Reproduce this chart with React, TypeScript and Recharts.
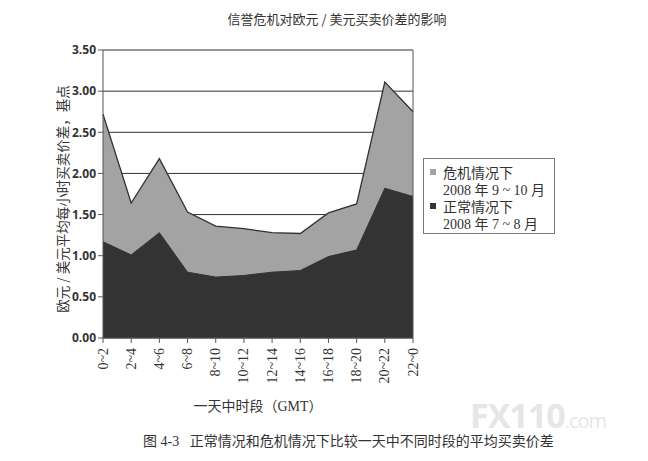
import React from "react";
import {
  Area,
  AreaChart,
  CartesianGrid,
  ReferenceLine,
  XAxis,
  YAxis,
} from "recharts";

const hours = ["0~2", "2~4", "4~6", "6~8", "8~10", "10~12", "12~14", "14~16", "16~18", "18~20", "20~22", "22~0"];
const crisis = [2.72, 1.64, 2.18, 1.53, 1.36, 1.33, 1.28, 1.27, 1.52, 1.63, 3.11, 2.75];
const normal = [1.17, 1.01, 1.28, 0.8, 0.74, 0.76, 0.8, 0.82, 0.99, 1.07, 1.82, 1.72];
const yTicks = [0, 0.5, 1, 1.5, 2, 2.5, 3, 3.5];

const data = hours.map((h, i) => ({ hour: h, crisis: crisis[i], normal: normal[i] }));

const serif = '"Liberation Serif", "DejaVu Serif", "Noto Sans CJK SC", serif';
const sans = '"Noto Sans CJK SC", "Open Sans", sans-serif';

function XTick({ x, y, payload }: any) {
  const ty = y + 3;
  return (
    <text
      x={x}
      y={ty}
      transform={`rotate(-90 ${x} ${ty})`}
      textAnchor="end"
      dominantBaseline="central"
      fontFamily={serif}
      fontSize={14}
      fill="#333"
    >
      {payload.value}
    </text>
  );
}

function LegendBox() {
  const row = { display: "flex", alignItems: "center", height: 17 } as const;
  const sq = (c: string) => (
    <span style={{ width: 6, height: 6, background: c, display: "inline-block", marginRight: 7 }} />
  );
  return (
    <div
      style={{
        position: "absolute",
        left: 423,
        top: 158,
        border: "1px solid #777",
        padding: "4px 6px 2px 6px",
        fontFamily: serif,
        fontSize: 14,
        color: "#333",
        background: "#fff",
        width: 118,
      }}
    >
      <div style={row}>{sq("#a3a3a3")}危机情况下</div>
      <div style={{ ...row, paddingLeft: 13 }}>2008 年 9 ~ 10 月</div>
      <div style={row}>{sq("#333")}正常情况下</div>
      <div style={{ ...row, paddingLeft: 13 }}>2008 年 7 ~ 8 月</div>
    </div>
  );
}

export default function App() {
  return (
    <div style={{ position: "absolute", left: 0, top: 0, width: 648, height: 461, background: "#fff" }}>
      <div
        style={{
          position: "absolute",
          left: 0,
          width: 674,
          top: 9,
          textAlign: "center",
          fontFamily: sans,
          fontSize: 13,
          color: "#333",
        }}
      >
        信誉危机对欧元 / 美元买卖价差的影响
      </div>
      <div
        style={{
          position: "absolute",
          left: 62 - 130,
          top: 199 - 10,
          width: 260,
          height: 20,
          lineHeight: "20px",
          textAlign: "center",
          transform: "rotate(-90deg)",
          fontFamily: sans,
          fontSize: 13.5,
          color: "#333",
        }}
      >
        欧元 / 美元平均每小时买卖价差，基点
      </div>
      <AreaChart
        width={648}
        height={461}
        data={data}
        margin={{ top: 50, right: 235, bottom: 63, left: 63 }}
      >
        <CartesianGrid vertical={false} stroke="#333" strokeWidth={1} />
        <XAxis
          dataKey="hour"
          height={60}
          tick={<XTick />}
          tickSize={5}
          axisLine={{ stroke: "#555" }}
          tickLine={{ stroke: "#555" }}
          interval={0}
        />
        <YAxis
          width={40}
          domain={[0, 3.5]}
          ticks={yTicks}
          tickFormatter={(v: number) => v.toFixed(2)}
          tickSize={5}
          axisLine={{ stroke: "#555" }}
          tickLine={{ stroke: "#555" }}
          tick={{ fontFamily: '"Open Sans", sans-serif', fontWeight: 700, fontSize: 12, fill: "#333" }}
        />
        <ReferenceLine x="22~0" stroke="#555" />
        <Area
          type="linear"
          dataKey="crisis"
          fill="#a3a3a3"
          fillOpacity={1}
          stroke="#333"
          strokeWidth={1.3}
          dot={false}
          activeDot={false}
          isAnimationActive={false}
        />
        <Area
          type="linear"
          dataKey="normal"
          fill="#333"
          fillOpacity={1}
          stroke="#333"
          strokeWidth={1}
          dot={false}
          activeDot={false}
          isAnimationActive={false}
        />
      </AreaChart>
      <LegendBox />
      <div
        style={{
          position: "absolute",
          left: 158,
          width: 200,
          top: 395,
          textAlign: "center",
          fontFamily: serif,
          fontSize: 14,
          color: "#333",
        }}
      >
        一天中时段（GMT）
      </div>
      <div
        style={{
          position: "absolute",
          left: 470,
          top: 392,
          fontFamily: '"Open Sans", sans-serif',
          fontWeight: 700,
          fontSize: 34,
          color: "#e6e6e6",
          letterSpacing: -1,
        }}
      >
        FX110<span style={{ fontSize: 20, fontWeight: 400 }}>.com</span>
      </div>
      <div
        style={{
          position: "absolute",
          left: 143,
          top: 430,
          fontFamily: serif,
          fontSize: 14,
          color: "#333",
          whiteSpace: "pre",
        }}
      >
        图 4-3   正常情况和危机情况下比较一天中不同时段的平均买卖价差
      </div>
    </div>
  );
}
